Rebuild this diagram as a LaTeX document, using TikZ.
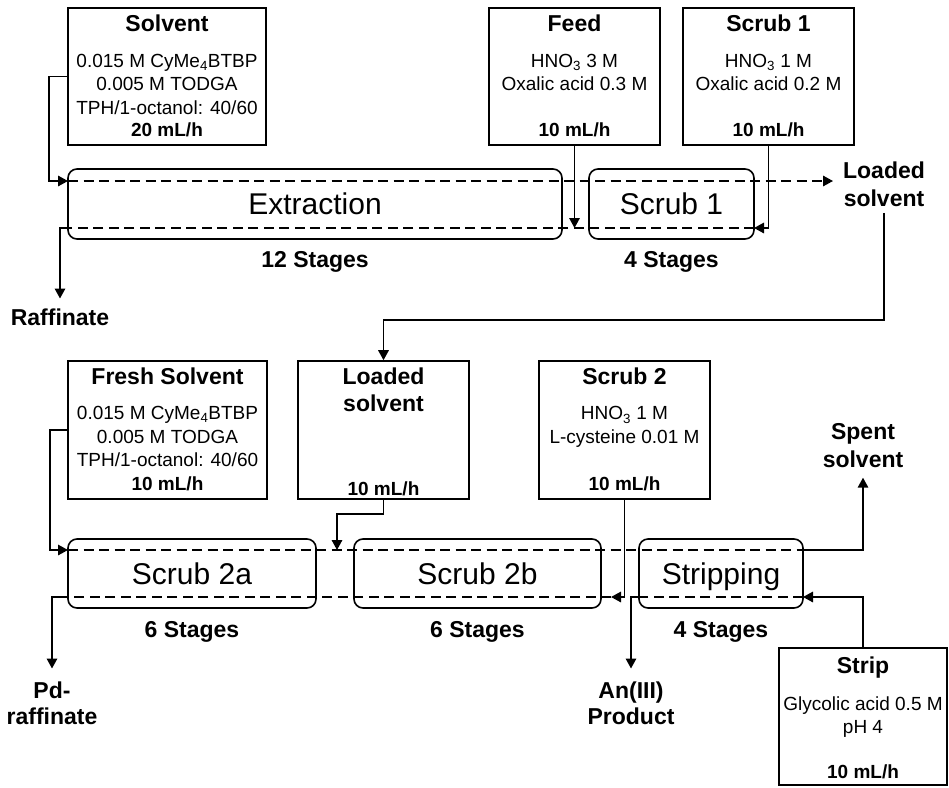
\documentclass[tikz,border=0pt]{standalone}
\usepackage{fontspec}
\setmainfont{Liberation Sans}
\usetikzlibrary{arrows.meta}
\begin{document}
\begin{tikzpicture}[x=1pt,y=-1pt,
  feedbox/.style={draw, line width=1.6pt, inner sep=0pt},
  procbox/.style={draw, line width=1.6pt, rounded corners=9pt, inner sep=0pt},
  ttl/.style={font=\bfseries\fontsize{23}{28}\selectfont, anchor=base, inner sep=0pt},
  body/.style={font=\fontsize{19}{23}\selectfont, anchor=base, inner sep=0pt},
  rate/.style={font=\bfseries\fontsize{19}{23}\selectfont, anchor=base, inner sep=0pt},
  proc/.style={font=\fontsize{30}{36}\selectfont, anchor=base, inner sep=0pt},
  stage/.style={font=\bfseries\fontsize{23}{28}\selectfont, anchor=base, inner sep=0pt},
  outlbl/.style={font=\bfseries\fontsize{23}{28}\selectfont, align=center, anchor=north, inner sep=0pt},
  ln/.style={line width=1.6pt},
  arr/.style={line width=1.6pt, -{Triangle[length=10pt,width=10.5pt]}},
  dsh/.style={line width=1.6pt, dash pattern=on 10pt off 5.5pt},
  dsharr/.style={dsh, -{Triangle[length=10pt,width=10.5pt]}}
]
\useasboundingbox (0,0) rectangle (949,787);

% ---------- top row: feed boxes ----------
\node[feedbox, minimum width=198pt, minimum height=137pt] (solvent) at (167,76.5) {};
\node[feedbox, minimum width=171pt, minimum height=137pt] (feed) at (574.5,76.5) {};
\node[feedbox, minimum width=171pt, minimum height=137pt] (scrubonebox) at (768.5,76.5) {};

\node[ttl]  (solventT) at (167,31) {Solvent};
\node[body] (solventA) at (167,67.5) {0.015 M CyMe\textsubscript{4}BTBP};
\node[body] (solventB) at (167,90.5) {0.005 M TODGA};
\node[body] (solventC) at (167,114) {TPH/1-octanol: 40/60};
\node[rate] (solventR) at (167,136.5) {20 mL/h};

\node[ttl]  (feedT) at (574.5,31) {Feed};
\node[body] (feedA) at (574.5,67) {HNO\textsubscript{3} 3 M};
\node[body] (feedB) at (574.5,90.5) {Oxalic acid 0.3 M};
\node[rate] (feedR) at (574.5,136.5) {10 mL/h};

\node[ttl]  (scrubT) at (768.5,31) {Scrub 1};
\node[body] (scrubA) at (768.5,67) {HNO\textsubscript{3} 1 M};
\node[body] (scrubB) at (768.5,90.5) {Oxalic acid 0.2 M};
\node[rate] (scrubR) at (768.5,136.5) {10 mL/h};

% ---------- top row: contactors ----------
\node[procbox, minimum width=494pt, minimum height=70pt] (extraction) at (315,204) {};
\node[procbox, minimum width=165pt, minimum height=70pt] (scrubone) at (671.5,204) {};
\node[proc] (extractionL) at (315,214) {Extraction};
\node[proc] (scruboneL) at (671.5,214) {Scrub 1};
\node[stage] (stA) at (315,267) {12 Stages};
\node[stage] (stB) at (671.5,267) {4 Stages};

\coordinate (exInTop) at (68,181);
\coordinate (topDashEnd) at (833,181);
\coordinate (exBotL) at (68,228);
\coordinate (scBotR) at (754,228);

\node[outlbl] (raff) at (60,308.5) {Raffinate};
\node[outlbl] (lsout) at (884,161.5) {Loaded\\solvent};

\draw[dsharr] (exInTop) -- (topDashEnd);
\draw[dsh] (scBotR) -- (exBotL);
\draw[arr] (solvent.west) -- ++(-18,0) |- (exInTop);
\draw[arr] (exBotL) -| ([yshift=10pt]raff.north);
\draw[arr] (feed.south) -- (feed.south |- exBotL);
\draw[arr] (scrubonebox.south) |- (scBotR);

% ---------- bottom row: feed boxes ----------
\node[feedbox, minimum width=199pt, minimum height=138pt] (fresh) at (167.5,430) {};
\node[feedbox, minimum width=171pt, minimum height=138pt] (loadedbox) at (383.5,430) {};
\node[feedbox, minimum width=171pt, minimum height=138pt] (scrubtwobox) at (624.5,430) {};
\node[feedbox, minimum width=168pt, minimum height=137pt] (stripbox) at (863,716.5) {};

\node[ttl]  (freshT) at (167.5,384) {Fresh Solvent};
\node[body] (freshA) at (167.5,419.7) {0.015 M CyMe\textsubscript{4}BTBP};
\node[body] (freshB) at (167.5,443) {0.005 M TODGA};
\node[body] (freshC) at (167.5,466.4) {TPH/1-octanol: 40/60};
\node[rate] (freshR) at (167.5,490.4) {10 mL/h};

\node[ttl]  (loadedT) at (383.5,384) {Loaded};
\node[ttl]  (loadedU) at (383.5,411.7) {solvent};
\node[rate] (loadedR) at (383.5,495.3) {10 mL/h};

\node[ttl]  (scrubtwoT) at (624.5,384) {Scrub 2};
\node[body] (scrubtwoA) at (624.5,419.7) {HNO\textsubscript{3} 1 M};
\node[body] (scrubtwoB) at (624.5,443) {L-cysteine 0.01 M};
\node[rate] (scrubtwoR) at (624.5,490.4) {10 mL/h};

\node[ttl]  (stripT) at (863,673) {Strip};
\node[body] (stripA) at (863,710.4) {Glycolic acid 0.5 M};
\node[body] (stripB) at (863,733.7) {pH 4};
\node[rate] (stripR) at (863,778.6) {10 mL/h};

% ---------- bottom row: contactors ----------
\node[procbox, minimum width=248pt, minimum height=69pt] (scrubtwoa) at (192,573.5) {};
\node[procbox, minimum width=247pt, minimum height=69pt] (scrubtwob) at (477.5,573.5) {};
\node[procbox, minimum width=164pt, minimum height=69pt] (stripping) at (721,573.5) {};
\node[proc] (scrubtwoaL) at (192,584) {Scrub 2a};
\node[proc] (scrubtwobL) at (477.5,584) {Scrub 2b};
\node[proc] (strippingL) at (721,584) {Stripping};
\node[stage] (stC) at (192,637) {6 Stages};
\node[stage] (stD) at (477.5,637) {6 Stages};
\node[stage] (stE) at (721,637) {4 Stages};

\coordinate (saInTop) at (68,550);
\coordinate (stTopR) at (803,550);
\coordinate (saBotL) at (68,597);
\coordinate (stBotR) at (803,597);
\coordinate (stBotL) at (639,597);
\coordinate (loadTip) at (337,550);
\coordinate (scTwoTip) at (611,597);

\node[outlbl] (pdr) at (52,681.5) {Pd-\\[-2pt]raffinate};
\node[outlbl] (prod) at (631,681.5) {An(III)\\[-2pt]Product};
\node[outlbl] (spent) at (863,423) {Spent\\solvent};

\draw[dsh] (saInTop) -- (stTopR);
\draw[dsh] (stBotR) -- (stBotL);
\draw[dsh] (scTwoTip) -- (saBotL);
\draw[arr] (fresh.west) -- ++(-17,0) |- (saInTop);
\draw[arr] (loadedbox.south) -- ++(0,14) -| (loadTip);
\draw[arr] (scrubtwobox.south) |- (scTwoTip);
\draw[arr] (stBotL) -| ([yshift=13pt]prod.north);
\draw[arr] (saBotL) -| ([yshift=13pt]pdr.north);
\draw[arr] (stTopR) -| ([yshift=-10pt]spent.south);
\draw[arr] (stripbox.north) |- (stBotR);

% ---------- link between rows ----------
\draw[arr] ([yshift=-6pt]lsout.south) -- ++(0,107) -| (loadedbox.north);
\end{tikzpicture}
\end{document}
